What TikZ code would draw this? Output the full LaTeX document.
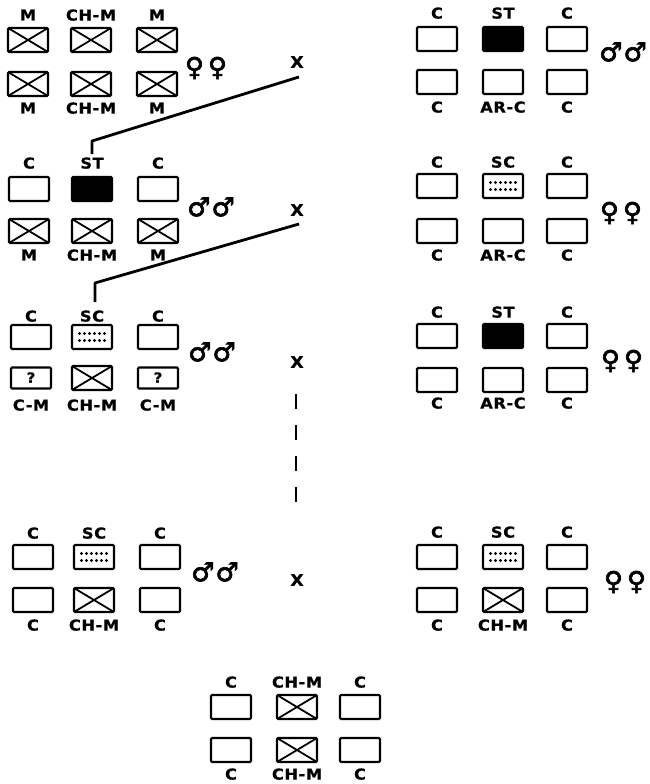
\documentclass[tikz,border=0pt]{standalone}
\usepackage{fontspec}
\usetikzlibrary{calc}
\newfontfamily\labfont{DejaVu Sans}[FakeStretch=1.08,LetterSpace=4,FakeBold=0.8]
\newfontfamily\symfont{DejaVu Sans}[FakeBold=2.5]

\tikzset{
  kb/.style={draw, line width=2.1pt, rounded corners=1.2pt,
    minimum width=40pt, minimum height=24pt, inner sep=0pt},
  plainbox/.style={kb},
  crossbox/.style={kb, path picture={
    \draw[line width=1.8pt]
      (path picture bounding box.north west) -- (path picture bounding box.south east)
      (path picture bounding box.south west) -- (path picture bounding box.north east);}},
  blackbox/.style={kb, fill=black},
  dotbox/.style={kb, path picture={
    \foreach \i in {-12.5,-7.5,...,12.5}{
      \fill[shift={(path picture bounding box.center)}] (\i,-3.5) circle (1.7pt) (\i,3.5) circle (1.7pt);}}},
  qbox/.style={kb, minimum height=21pt, font=\labfont\bfseries\fontsize{14}{14}\selectfont},
  lab/.style={inner sep=0pt, text depth=0pt, font=\labfont\bfseries\fontsize{15}{15}\selectfont},
  cross mark/.style={inner sep=0pt, font=\labfont\bfseries\fontsize{16}{16}\selectfont},
  sex/.style={inner sep=0pt, font=\symfont\fontsize{26}{26}\selectfont},
  link/.style={line width=2.8pt, line join=round},
  gap/.style={line width=2.6pt, dash pattern=on 15pt off 16pt}
}

% box with its name, centre, kind, text and the offset of its caption
\newcommand\kcell[6]{%
  \node[#4] (#1) at (#2,#3) {};
  \node[lab] (#1l) at ($(#1)+(0,#6)$) {#5};}

\begin{document}
\begin{tikzpicture}[x=1pt,y=-1pt]
\useasboundingbox (0,0) rectangle (649,784);

% ---- left column ----
\kcell{g1a}{28}{40}{crossbox}{M}{-25}
\kcell{g1b}{91}{40}{crossbox}{CH-M}{-25}
\kcell{g1c}{157}{40}{crossbox}{M}{-25}
\kcell{g1d}{28}{84}{crossbox}{M}{24}
\kcell{g1e}{91}{84}{crossbox}{CH-M}{24}
\kcell{g1f}{157}{84}{crossbox}{M}{24}
\node[sex] (s1) at (206,68) {♀\hspace{4pt}♀};

\kcell{g2a}{29}{189}{plainbox}{C}{-26}
\kcell{g2b}{92}{189}{blackbox}{ST}{-26}
\kcell{g2c}{158}{189}{plainbox}{C}{-26}
\kcell{g2d}{29}{231}{crossbox}{M}{24}
\kcell{g2e}{92}{231}{crossbox}{CH-M}{24}
\kcell{g2f}{158}{231}{crossbox}{M}{24}
\node[sex] (s2) at (211,207) {♂\hspace{1pt}♂};

\kcell{g3a}{31}{337}{plainbox}{C}{-21}
\kcell{g3b}{92}{337}{dotbox}{SC}{-21}
\kcell{g3c}{158}{337}{plainbox}{C}{-21}
\node[qbox] (g3d) at (31,378) {\raisebox{1pt}{?}};
\node[lab] (g3dl) at ($(g3d)+(0,27)$) {C-M};
\kcell{g3e}{92}{378}{crossbox}{CH-M}{27}
\node[qbox] (g3f) at (158,378) {\raisebox{1pt}{?}};
\node[lab] (g3fl) at ($(g3f)+(0,27)$) {C-M};
\node[sex] (s3) at (212,352) {♂\hspace{1pt}♂};

\kcell{g4a}{33}{557}{plainbox}{C}{-24}
\kcell{g4b}{94}{557}{dotbox}{SC}{-24}
\kcell{g4c}{160}{557}{plainbox}{C}{-24}
\kcell{g4d}{33}{600}{plainbox}{C}{25}
\kcell{g4e}{94}{600}{crossbox}{CH-M}{25}
\kcell{g4f}{160}{600}{plainbox}{C}{25}
\node[sex] (s4) at (215,572) {♂\hspace{1pt}♂};

% ---- right column ----
\kcell{h1a}{437}{39}{plainbox}{C}{-26}
\kcell{h1b}{503}{39}{blackbox}{ST}{-26}
\kcell{h1c}{567}{39}{plainbox}{C}{-26}
\kcell{h1d}{437}{82}{plainbox}{C}{25}
\kcell{h1e}{503}{82}{plainbox}{AR-C}{25}
\kcell{h1f}{567}{82}{plainbox}{C}{25}
\node[sex] (t1) at (623,52) {♂\hspace{1pt}♂};

\kcell{h2a}{437}{186}{plainbox}{C}{-24}
\kcell{h2b}{503}{186}{dotbox}{SC}{-24}
\kcell{h2c}{567}{186}{plainbox}{C}{-24}
\kcell{h2d}{437}{231}{plainbox}{C}{24}
\kcell{h2e}{503}{231}{plainbox}{AR-C}{24}
\kcell{h2f}{567}{231}{plainbox}{C}{24}
\node[sex] (t2) at (621,213) {♀\hspace{4pt}♀};

\kcell{h3a}{437}{336}{plainbox}{C}{-24}
\kcell{h3b}{503}{336}{blackbox}{ST}{-24}
\kcell{h3c}{567}{336}{plainbox}{C}{-24}
\kcell{h3d}{437}{380}{plainbox}{C}{23}
\kcell{h3e}{503}{380}{plainbox}{AR-C}{23}
\kcell{h3f}{567}{380}{plainbox}{C}{23}
\node[sex] (t3) at (622,361) {♀\hspace{4pt}♀};

\kcell{h4a}{437}{557}{plainbox}{C}{-25}
\kcell{h4b}{503}{557}{dotbox}{SC}{-25}
\kcell{h4c}{567}{557}{plainbox}{C}{-25}
\kcell{h4d}{437}{600}{plainbox}{C}{25}
\kcell{h4e}{503}{600}{crossbox}{CH-M}{25}
\kcell{h4f}{567}{600}{plainbox}{C}{25}
\node[sex] (t4) at (625,582) {♀\hspace{4pt}♀};

% ---- offspring ----
\kcell{fa}{231}{707}{plainbox}{C}{-25}
\kcell{fb}{297}{707}{crossbox}{CH-M}{-25}
\kcell{fc}{360}{707}{plainbox}{C}{-25}
\kcell{fd}{231}{750}{plainbox}{C}{24}
\kcell{fe}{297}{750}{crossbox}{CH-M}{24}
\kcell{ff}{360}{750}{plainbox}{C}{24}

% ---- crosses ----
\node[cross mark] (x1) at (297,62) {X};
\node[cross mark] (x2) at (297,210) {X};
\node[cross mark] (x3) at (297,362) {X};
\node[cross mark] (x4) at (297,580) {X};

% lines from a cross down to the parent of the next row
\coordinate (l1s) at (299,77);
\coordinate (l1k) at (92,141);
\coordinate (l1e) at (92,154);
\draw[link] (l1s) -- (l1k) -- (l1e);
\coordinate (l2s) at (299,224);
\coordinate (l2k) at (95,283);
\coordinate (l2e) at (95,302);
\draw[link] (l2s) -- (l2k) -- (l2e);

% generations skipped
\coordinate (d1) at (296,394);
\coordinate (d2) at (296,504);
\draw[gap] (d1) -- (d2);
\end{tikzpicture}
\end{document}
